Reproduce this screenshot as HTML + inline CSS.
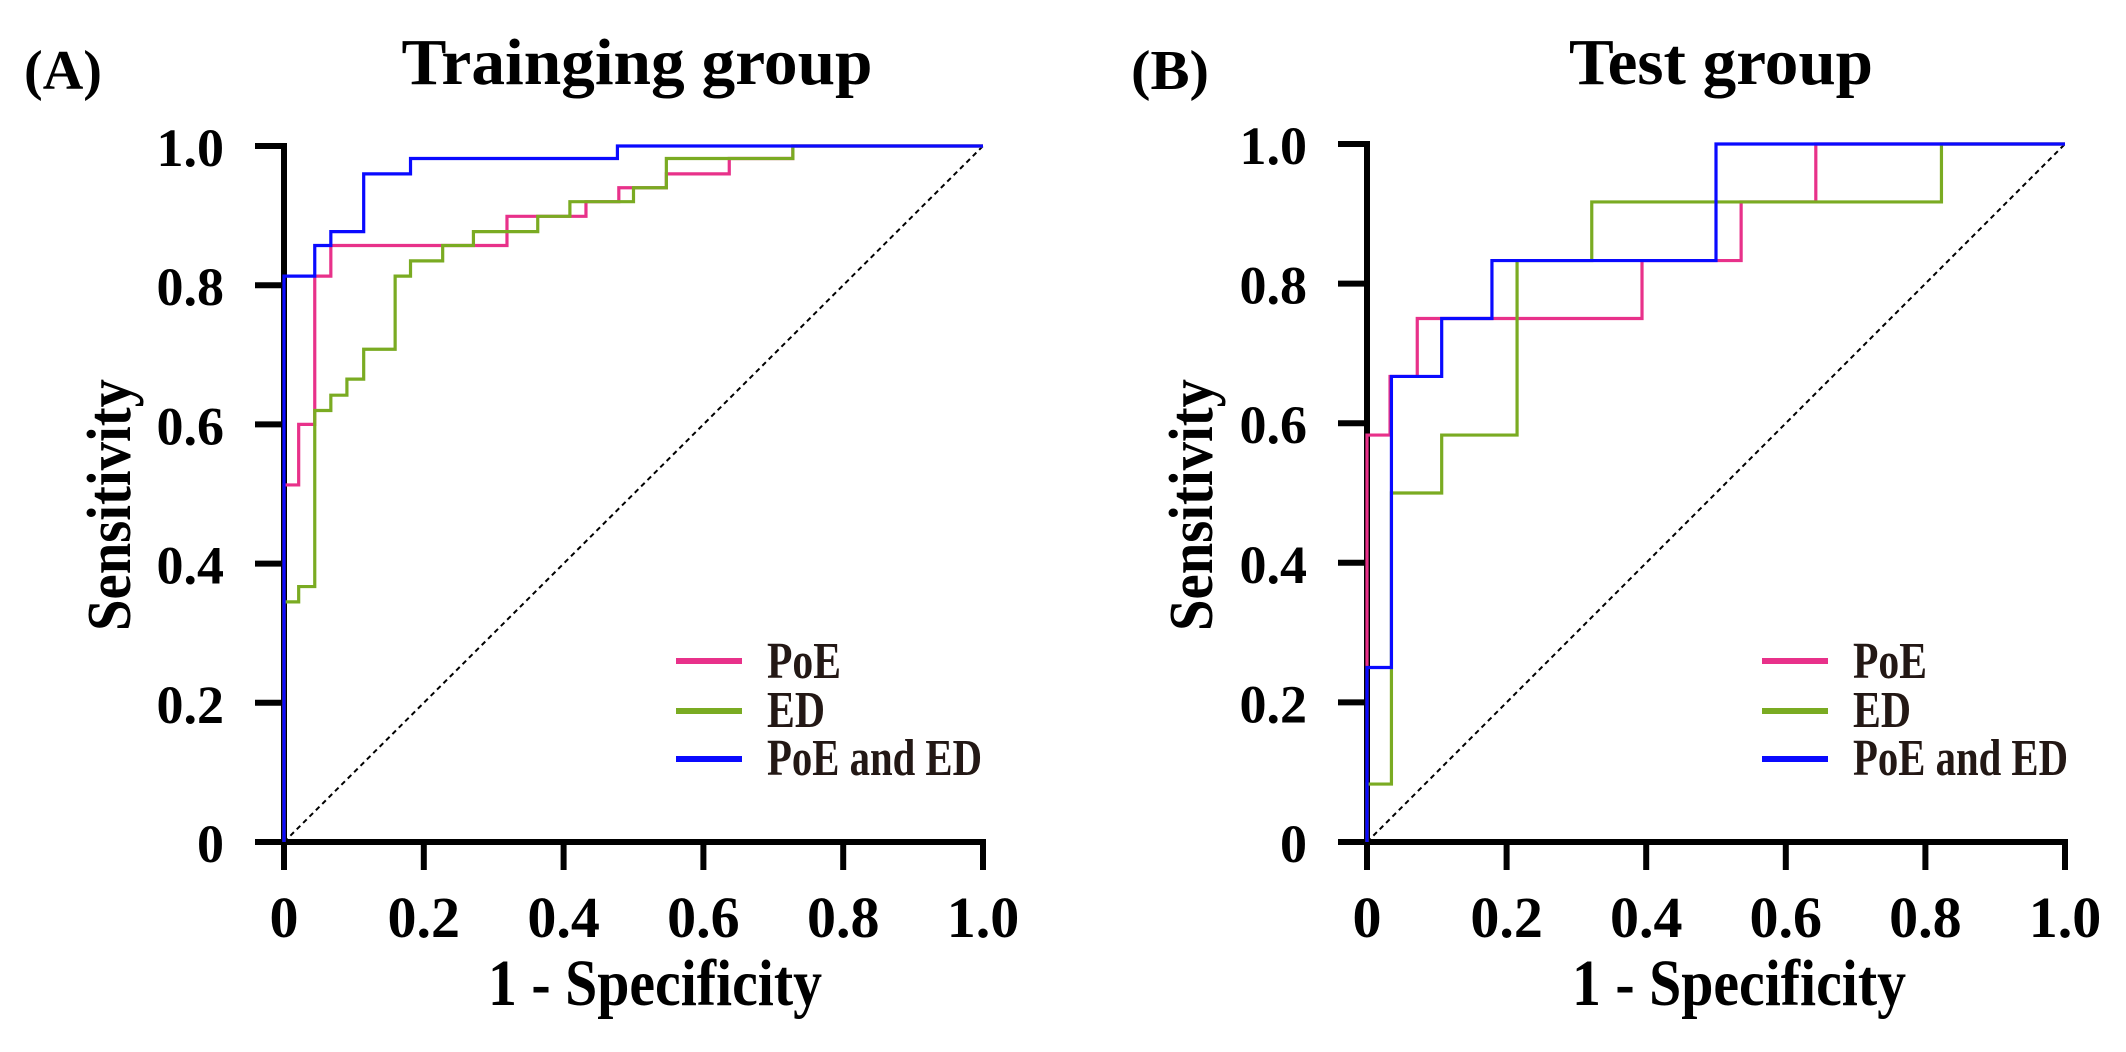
<!DOCTYPE html>
<html><head><meta charset="utf-8"><style>
html,body{margin:0;padding:0;background:#fff;}
svg text{font-family:"Liberation Serif",serif;font-weight:bold;}
</style></head><body>
<svg id="fig" width="2126" height="1047" viewBox="0 0 2126 1047" xmlns="http://www.w3.org/2000/svg"></svg>
<script>
// ---- Data ----
const xTicks = [0, 0.2, 0.4, 0.6, 0.8, 1.0];
const xTickLabels = ["0", "0.2", "0.4", "0.6", "0.8", "1.0"];
const yTicks = [0, 0.2, 0.4, 0.6, 0.8, 1.0];
const yTickLabels = ["0", "0.2", "0.4", "0.6", "0.8", "1.0"];
const seriesNames = ["PoE", "ED", "PoE and ED"];
const seriesColors = ["#e8318a", "#7aab22", "#0a0aff"];

// Training group step points (FPR at each step, TPR after step)
const trainPoeX = [0, 0, 0.021, 0.044, 0.067, 0.319, 0.432, 0.479, 0.547, 0.637, 0.728, 1.0];
const trainPoeY = [0, 0.513, 0.600, 0.813, 0.857, 0.899, 0.920, 0.940, 0.960, 0.982, 1.0, 1.0];
const trainEdX = [0, 0, 0.021, 0.044, 0.067, 0.090, 0.114, 0.159, 0.181, 0.227, 0.271, 0.363, 0.409, 0.500, 0.547, 0.728, 1.0];
const trainEdY = [0, 0.345, 0.367, 0.620, 0.642, 0.665, 0.708, 0.813, 0.835, 0.857, 0.877, 0.899, 0.920, 0.940, 0.982, 1.0, 1.0];
const trainBothX = [0, 0, 0.044, 0.067, 0.114, 0.181, 0.477, 1.0];
const trainBothY = [0, 0.813, 0.857, 0.877, 0.960, 0.982, 1.0, 1.0];

// Test group
const testPoeX = [0, 0, 0.033, 0.072, 0.394, 0.536, 0.643, 1.0];
const testPoeY = [0, 0.583, 0.667, 0.750, 0.833, 0.917, 1.0, 1.0];
const testEdX = [0, 0, 0.035, 0.107, 0.215, 0.322, 0.823, 1.0];
const testEdY = [0, 0.083, 0.500, 0.583, 0.833, 0.917, 1.0, 1.0];
const testBothX = [0, 0, 0.035, 0.107, 0.179, 0.500, 1.0];
const testBothY = [0, 0.250, 0.667, 0.750, 0.833, 1.0, 1.0];

const NS = "http://www.w3.org/2000/svg";
const svg = document.getElementById("fig");
function mk(tag, attrs, parent) {
  const e = document.createElementNS(NS, tag);
  for (const k in attrs) e.setAttribute(k, attrs[k]);
  (parent || svg).appendChild(e);
  return e;
}

function drawPanel(p) {
  const g = mk("g", {});
  
  
  const sx = v => p.x0 + v * (p.x1 - p.x0);
  const sy = v => p.y0 - v * (p.y0 - p.y1);

  let t = mk("text", {x: p.letterX, y: 89, "font-size": 56, textLength: 78, lengthAdjust: "spacingAndGlyphs"}, g);
  t.textContent = p.letter;
  
  
  t = mk("text", {x: p.titleCx, y: 84, "font-size": 66, "text-anchor": "middle", textLength: p.titleW, lengthAdjust: "spacingAndGlyphs"}, g);
  t.textContent = p.title;
  
  

  const d = mk("line", {x1: sx(0), y1: sy(0), x2: sx(1), y2: sy(1), stroke: "#000", "stroke-width": 2, "stroke-dasharray": "5,4"}, g);
  
  

  const ax = mk("path", {d: `M${sx(0)},${sy(1)-3} L${sx(0)},${sy(0)} L${sx(1)+3},${sy(0)}`, fill: "none", stroke: "#000", "stroke-width": 6}, g);
  
  

  xTicks.forEach((v, i) => {
    const tk = mk("line", {x1: sx(v), y1: sy(0), x2: sx(v), y2: sy(0) + 28, stroke: "#000", "stroke-width": 6}, g);
    
    
    const lb = mk("text", {x: sx(v), y: 937, "font-size": 58, "text-anchor": "middle"}, g);
    lb.textContent = xTickLabels[i];
    
    
  });
  yTicks.forEach((v, i) => {
    const tk = mk("line", {x1: sx(0) - 29, y1: sy(v), x2: sx(0), y2: sy(v), stroke: "#000", "stroke-width": 6}, g);
    
    
    const lb = mk("text", {x: sx(0) - 60, y: sy(v) + 20, "font-size": 54, "text-anchor": "end"}, g);
    lb.textContent = yTickLabels[i];
    
    
  });

  t = mk("text", {x: p.xTitleCx, y: 1005, "font-size": 66, "text-anchor": "middle", textLength: 334, lengthAdjust: "spacingAndGlyphs"}, g);
  t.textContent = "1 - Specificity";
  
  
  t = mk("text", {x: 0, y: 0, "font-size": 62, "text-anchor": "middle", textLength: 252, lengthAdjust: "spacingAndGlyphs", transform: `translate(${p.yTitleX},505) rotate(-90)`}, g);
  t.textContent = "Sensitivity";
  
  

  p.series.forEach((s, si) => {
    let dstr = "";
    for (let i = 0; i < s.x.length; i++) {
      if (i === 0) dstr += `M${sx(s.x[0])},${sy(s.y[0])}`;
      else dstr += ` L${sx(s.x[i])},${sy(s.y[i-1])} L${sx(s.x[i])},${sy(s.y[i])}`;
    }
    const c = mk("path", {d: dstr, fill: "none", stroke: seriesColors[si], "stroke-width": 3.2}, g);
    
    
  });

  const ly = [661, 711, 759];
  const ty = [678, 727, 775];
  const lw = [74, 58, 215];
  seriesNames.forEach((n, i) => {
    const l = mk("line", {x1: p.legX, y1: ly[i], x2: p.legX + 66, y2: ly[i], stroke: seriesColors[i], "stroke-width": 6}, g);
    
    
    const lt = mk("text", {x: p.legX + 91, y: ty[i], "font-size": 52, fill: "#231815", textLength: lw[i], lengthAdjust: "spacingAndGlyphs"}, g);
    lt.textContent = n;
    
    
  });
}

drawPanel({name: "training-panel", letter: "(A)", letterX: 24, title: "Trainging group", titleCx: 637, titleW: 471,
  x0: 284, x1: 983, y0: 842, y1: 146, xTitleCx: 655, yTitleX: 130, legX: 676,
  series: [{x: trainPoeX, y: trainPoeY}, {x: trainEdX, y: trainEdY}, {x: trainBothX, y: trainBothY}]});
drawPanel({name: "test-panel", letter: "(B)", letterX: 1131, title: "Test group", titleCx: 1721, titleW: 304,
  x0: 1367, x1: 2065, y0: 842, y1: 144, xTitleCx: 1739, yTitleX: 1212, legX: 1762,
  series: [{x: testPoeX, y: testPoeY}, {x: testEdX, y: testEdY}, {x: testBothX, y: testBothY}]});
</script>
</body></html>
